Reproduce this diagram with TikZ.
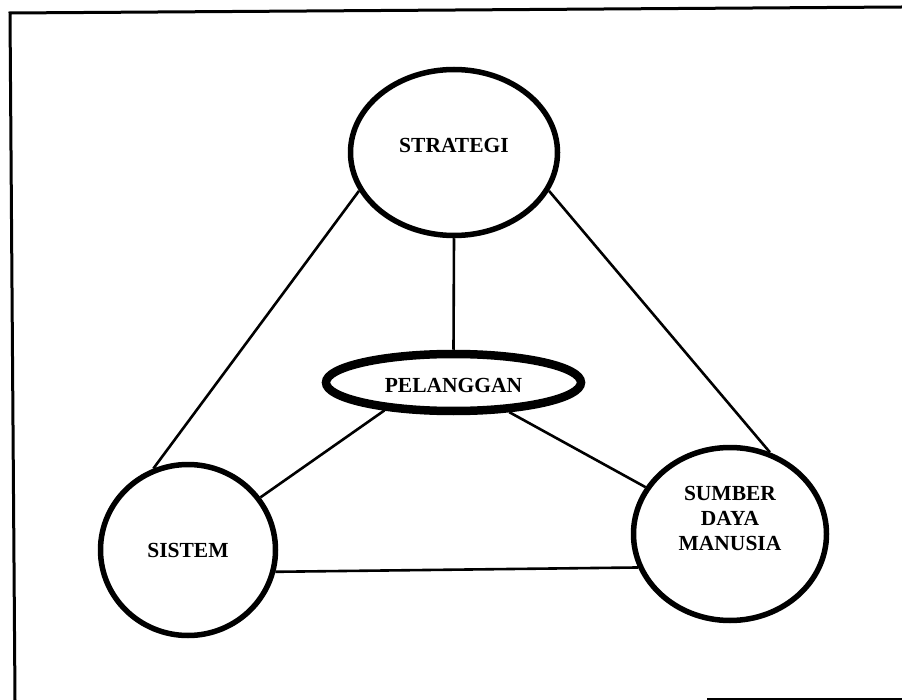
\documentclass[tikz,border=0pt]{standalone}
\usepackage{fontspec}
\setmainfont{Liberation Serif}
\usetikzlibrary{shapes.geometric}
% raise the label inside its ellipse without changing the node size
\newcommand{\liftby}[2]{\raisebox{#1}[\height][\depth]{#2}}

\begin{document}
\begin{tikzpicture}[x=1pt,y=-1pt,
  every node/.style={font=\fontsize{21.5}{25}\selectfont\bfseries},
  blob/.style={draw, ellipse, line width=5.5pt, inner sep=0pt},
  hub/.style={draw, ellipse, line width=8.5pt, inner sep=0pt},
  link/.style={line width=2.6pt},
  frame/.style={line width=3pt}]
\useasboundingbox (0,0) rectangle (902,700);

% outer frame
\coordinate (tl) at (10,13);
\coordinate (tr) at (902,7);
\coordinate (bl) at (15,700);
\coordinate (bs) at (707,698.5);
\coordinate (be) at (902,698.5);
\draw[frame] (tr) -- (tl) -- (bl);
\draw[line width=2pt] (bs) -- (be);

% the four elements
\node[blob, minimum width=207pt, minimum height=166pt] (strat) at (454,152.5)
  {\liftby{7.5pt}{STRATEGI}};
\node[hub, minimum width=255pt, minimum height=57pt] (pel) at (453.5,382.5)
  {\liftby{-2.5pt}{PELANGGAN}};
\node[blob, minimum width=175pt, minimum height=171pt] (sis) at (188,550)
  {SISTEM};
\node[blob, minimum width=193pt, minimum height=173pt] (sdm) at (730,534)
  {\liftby{14pt}{\begin{tabular}{@{}c@{}}SUMBER\\DAYA\\MANUSIA\end{tabular}}};

% connections
\draw[link] (strat.south) -- (pel.north);
\draw[link] (strat.202) -- (sis.113);
\draw[link] (strat.338) -- (sdm.64);
\draw[link] (pel.202) -- (sis.36);
\draw[link] (pel.332) -- (sdm.151);
\draw[link] (sis.346) -- (sdm.200);
\end{tikzpicture}
\end{document}
